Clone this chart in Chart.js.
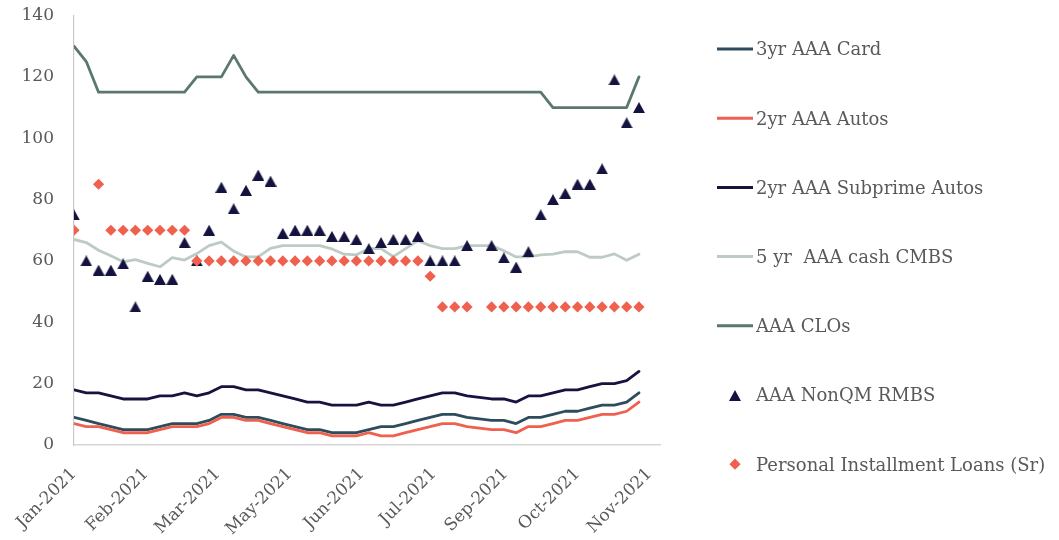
<!DOCTYPE html>
<html>
<head>
<meta charset="utf-8">
<script src="https://cdn.jsdelivr.net/npm/chart.js@4/dist/chart.umd.min.js"></script>
<style>
  html, body { margin: 0; padding: 0; background: #ffffff; }
  #wrap { position: relative; width: 1059px; height: 540px; }
</style>
</head>
<body>
<div id="wrap"><canvas id="c"></canvas></div>
<script>
// ---------------- data ----------------
const dates = [
  '2021-01-01','2021-01-08','2021-01-15','2021-01-22','2021-01-29',
  '2021-02-05','2021-02-12','2021-02-19','2021-02-26',
  '2021-03-05','2021-03-12','2021-03-19','2021-03-26',
  '2021-04-02','2021-04-09','2021-04-16','2021-04-23','2021-04-30',
  '2021-05-07','2021-05-14','2021-05-21','2021-05-28',
  '2021-06-04','2021-06-11','2021-06-18','2021-06-25',
  '2021-07-02','2021-07-09','2021-07-16','2021-07-23','2021-07-30',
  '2021-08-06','2021-08-13','2021-08-20','2021-08-27',
  '2021-09-03','2021-09-10','2021-09-17','2021-09-24',
  '2021-10-01','2021-10-08','2021-10-15','2021-10-22','2021-10-29',
  '2021-11-05','2021-11-12','2021-11-19'
];

const tickLabels = ['Jan-2021','Feb-2021','Mar-2021','May-2021','Jun-2021','Jul-2021','Sep-2021','Oct-2021','Nov-2021'];

const card3yr = [9,8,7,6,5,5,5,6,7,7,7,8,10,10,9,9,8,7,6,5,5,4,4,4,
                 5,6,6,7,8,9,10,10,9,8.5,8,8,7,9,9,10,11,11,12,13,13,14,17];
const autos2yr = [7,6,6,5,4,4,4,5,6,6,6,7,9,9,8,8,7,6,5,4,4,3,3,3,
                  4,3,3,4,5,6,7,7,6,5.5,5,5,4,6,6,7,8,8,9,10,10,11,14];
const subprime2yr = [18,17,17,16,15,15,15,16,16,17,16,17,19,19,18,18,17,16,15,14,14,13,13,13,
                     14,13,13,14,15,16,17,17,16,15.5,15,15,14,16,16,17,18,18,19,20,20,21,24];
const cmbs5yr = [67,66,63.5,61.7,59.7,60.4,59.2,58.1,61.1,60.3,62.4,65,66.1,63.2,61.3,61.3,64.1,65,65,65,65,63.9,62.2,62,
                 64,64,61.4,64,66.6,65,64,64,65,65,65,63.3,61.3,61.3,62,62.2,63,63,61.2,61.2,62.3,60.2,62.2];
const clos = [130,125,115,115,115,115,115,115,115,115,120,120,120,127,120,115,115,115,115,115,115,115,115,115,
              115,115,115,115,115,115,115,115,115,115,115,115,115,115,115,110,110,110,110,110,110,110,120];
const nonQM = [75,60,57,57,59,45,55,54,54,66,60,70,84,77,83,88,86,69,70,70,70,68,68,67,
               64,66,67,67,68,60,60,60,65,null,65,61,58,63,75,80,82,85,85,90,119,105,110];
const personalLoans = [70,null,85,70,70,70,70,70,70,70,
                       60,60,60,60,60,60,60,60,60,60,60,60,60,60,60,60,60,60,60,
                       55,45,45,45,null,45,45,45,45,45,45,45,45,45,45,45,45,45];

// ---------------- helpers ----------------
const DAY = 86400000;
const t0 = Date.parse(dates[0]);
const xs = dates.map(d => (Date.parse(d) - t0) / DAY);
const pts = arr => arr.map((v, i) => ({ x: xs[i], y: v }));

function makeTriangle(color, w, h) {
  const c = document.createElement('canvas');
  c.width = w; c.height = h;
  const g = c.getContext('2d');
  g.fillStyle = color;
  g.beginPath();
  g.moveTo(w / 2, 0);
  g.lineTo(w, h);
  g.lineTo(0, h);
  g.closePath();
  g.fill();
  return c;
}

const C = {
  card: '#2E4C5C',
  autos: '#F0604E',
  subprime: '#16143F',
  cmbs: '#BCCCC4',
  clo: '#5A796C',
  nonqm: '#14123E',
  pil: '#F0604E',
  text: '#595959'
};
const triImg = makeTriangle(C.nonqm, 12, 11);
const FONT = '"DejaVu Serif", "Liberation Serif", serif';

const lineDs = (label, data, color, order) => ({
  label, data: pts(data), borderColor: color, backgroundColor: color,
  borderWidth: 2.8, pointRadius: 0, tension: 0, borderJoinStyle: 'round',
  borderCapStyle: 'round', fill: false, order
});

// ---------------- custom side legend ----------------
const sideLegend = {
  id: 'sideLegend',
  afterDraw(chart, args, o) {
    const ctx = chart.ctx;
    ctx.save();
    ctx.font = o.fontSize + 'px ' + FONT;
    ctx.textBaseline = 'alphabetic';
    ctx.textAlign = 'left';
    chart.data.datasets.forEach((ds, i) => {
      const y = o.y0 + i * o.dy;
      const cx = o.x + o.len / 2;
      if (ds.showLine === false) {
        if (ds.pointStyle instanceof HTMLCanvasElement) {
          ctx.drawImage(ds.pointStyle, Math.round(cx - ds.pointStyle.width / 2), Math.round(y - ds.pointStyle.height / 2));
        } else {
          const r = ds.pointRadius;
          ctx.fillStyle = ds.backgroundColor;
          ctx.beginPath();
          ctx.moveTo(cx - r, y); ctx.lineTo(cx, y - r); ctx.lineTo(cx + r, y); ctx.lineTo(cx, y + r);
          ctx.closePath(); ctx.fill();
        }
      } else {
        ctx.strokeStyle = ds.borderColor;
        ctx.lineWidth = 3;
        ctx.beginPath();
        ctx.moveTo(o.x, y); ctx.lineTo(o.x + o.len, y);
        ctx.stroke();
      }
      ctx.fillStyle = C.text;
      ctx.fillText(ds.label, o.textX, y + o.fontSize * 0.36);
    });
    ctx.restore();
  }
};

// ---------------- chart ----------------
new Chart(document.getElementById('c'), {
  type: 'line',
  data: {
    datasets: [
      lineDs('3yr AAA Card', card3yr, C.card, 6),
      lineDs('2yr AAA Autos', autos2yr, C.autos, 5),
      lineDs('2yr AAA Subprime Autos', subprime2yr, C.subprime, 4),
      lineDs('5 yr  AAA cash CMBS', cmbs5yr, C.cmbs, 3),
      lineDs('AAA CLOs', clos, C.clo, 2),
      {
        label: 'AAA NonQM RMBS', data: pts(nonQM), showLine: false,
        pointStyle: triImg, pointRadius: 6, backgroundColor: C.nonqm, borderColor: C.nonqm,
        order: 1
      },
      {
        label: 'Personal Installment Loans (Sr)', data: pts(personalLoans), showLine: false,
        pointStyle: 'rectRot', pointRadius: 5.6, pointBorderWidth: 0, borderWidth: 0,
        backgroundColor: C.pil, borderColor: C.pil, order: 0
      }
    ]
  },
  options: {
    responsive: true,
    maintainAspectRatio: false,
    animation: false,
    devicePixelRatio: 1,
    layout: { padding: { left: 0, right: 399, top: 15.5, bottom: 0 } },
    plugins: {
      legend: { display: false },
      tooltip: { enabled: false },
      sideLegend: { x: 717, len: 36, textX: 756, y0: 49, dy: 69.2, fontSize: 18 }
    },
    scales: {
      x: {
        type: 'linear',
        min: 0,
        max: 334,
        grid: { display: false, drawTicks: false },
        border: { display: true, color: '#D6D6D6', width: 1.6 },
        afterBuildTicks: s => { s.ticks = tickLabels.map((_, k) => ({ value: k * 41 })); },
        afterFit: s => { s.height = 95; },
        ticks: {
          autoSkip: false,
          minRotation: 45,
          maxRotation: 45,
          padding: 19,
          color: C.text,
          font: { family: FONT, size: 17 },
          callback: (v, idx) => tickLabels[idx]
        }
      },
      y: {
        min: 0,
        max: 140,
        grid: { display: false, drawTicks: false },
        border: { display: true, color: '#C8C8C8', width: 1.2 },
        afterFit: s => { s.width = 74; s.paddingTop = 0; s.paddingBottom = 0; },
        ticks: {
          stepSize: 20,
          padding: 20,
          color: C.text,
          font: { family: FONT, size: 17 }
        }
      }
    }
  },
  plugins: [sideLegend]
});
</script>
</body>
</html>
